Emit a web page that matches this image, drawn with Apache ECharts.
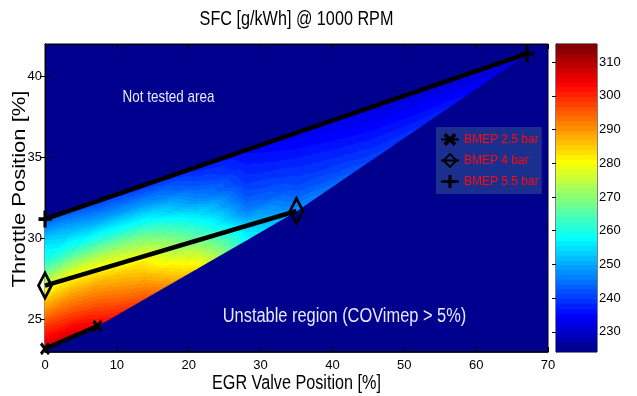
<!DOCTYPE html>
<html>
<head>
<meta charset="utf-8">
<script src="https://cdn.jsdelivr.net/npm/echarts@6/dist/echarts.min.js"></script>
<style>
  html, body { margin: 0; padding: 0; background: #ffffff; }
  #chart { width: 637px; height: 396px; }
</style>
</head>
<body>
<div id="chart"></div>
<script>
// ---- data ---------------------------------------------------------------
// EGR valve position of each column of the SFC map [%]
const egrColumns = [0, 3.5, 7.3, 14, 21, 28, 35, 45, 56, 67.1];

// throttle position samples per column, from the stability limit up to the 5.5 bar line [%]
const throttleGrid = [
  [23.2, 24.53, 25.87, 27.2, 28.53, 29.87, 31.2],
  [23.87, 25.18, 26.49, 27.8, 29.11, 30.42, 31.73],
  [24.6, 25.89, 27.17, 28.46, 29.74, 31.03, 32.31],
  [26.32, 27.49, 28.66, 29.83, 30.99, 32.16, 33.33],
  [28.11, 29.16, 30.2, 31.25, 32.3, 33.34, 34.39],
  [29.9, 30.83, 31.75, 32.68, 33.61, 34.53, 35.46],
  [31.7, 32.5, 33.31, 34.11, 34.91, 35.72, 36.52],
  [34.72, 35.27, 35.83, 36.38, 36.93, 37.49, 38.04],
  [38.04, 38.32, 38.6, 38.88, 39.15, 39.43, 39.71],
  [41.4, 41.4, 41.4, 41.4, 41.4, 41.4, 41.4]
];

// specific fuel consumption at those samples [g/kWh]
const sfcGrid = [
  [308, 299, 288, 276, 261, 254, 242],
  [308, 298, 289, 279, 263, 252, 242],
  [304, 296, 288, 278, 263, 250, 240],
  [296, 288, 281, 271, 259, 248, 239],
  [283, 275, 265, 257, 248, 242, 237],
  [258, 253, 246, 242, 239, 237, 235],
  [248, 244, 241, 239, 237, 235, 233],
  [241, 239, 237.5, 236, 234.5, 233, 232],
  [237, 236, 235, 234, 233, 232, 231],
  [230, 230, 230, 230, 230, 230, 230]
];

// constant-load lines: [EGR %, throttle %]
const bmep25 = [[0, 23.2], [7.3, 24.6]];
const bmep40 = [[0, 27.1], [35.0, 31.7]];
const bmep55 = [[0, 31.2], [67.1, 41.4]];
const seriesNames = ['BMEP 2.5 bar', 'BMEP 4 bar', 'BMEP 5.5 bar'];

// axes
const egrRange = [0, 70];
const egrTicks = [0, 10, 20, 30, 40, 50, 60, 70];
const throttleRange = [23, 42];
const throttleTicks = [25, 30, 35, 40];
const colorLimits = [224, 315.4];
const colorbarTicks = [230, 240, 250, 260, 270, 280, 290, 300, 310];

// ---- jet colormap (64 entries) -------------------------------------------
const NCOL = 64;
function jetRGB(i) {
  const j = i + 1;
  const u = k => (k < 1 ? 0 : k <= 16 ? k / 16 : k <= 31 ? 1 : k <= 47 ? (48 - k) / 16 : 0);
  return 'rgb(' + Math.round(255 * u(j - 24)) + ',' + Math.round(255 * u(j - 8)) + ',' +
    Math.round(255 * u(j + 8)) + ')';
}
function bandOf(v) {
  const f = (v - colorLimits[0]) / (colorLimits[1] - colorLimits[0]);
  return Math.max(0, Math.min(NCOL - 1, Math.floor(f * NCOL)));
}
function bandEdge(k) {
  return colorLimits[0] + k * (colorLimits[1] - colorLimits[0]) / NCOL;
}
const clamp01 = t => Math.max(0, Math.min(1, t));
// gradient stops for a ramp from v0 to v1, one flat band per colormap entry
function rampStops(v0, v1) {
  const stops = [];
  const k0 = bandOf(v0), k1 = bandOf(v1);
  let prev = 0;
  for (let k = k0; k <= k1; k++) {
    const end = k === k1 ? 1 : (bandEdge(k + 1) - v0) / (v1 - v0);
    const c = jetRGB(k);
    stops.push({ offset: clamp01(prev), color: c }, { offset: clamp01(end), color: c });
    prev = end;
  }
  return stops;
}

// ---- surface triangles built from the map grid ----------------------------
const surfaceCells = [];
for (let c = 0; c < egrColumns.length - 1; c++) {
  for (let r = 0; r < throttleGrid[c].length - 1; r++) {
    const a = [egrColumns[c], throttleGrid[c][r], sfcGrid[c][r]];
    const b = [egrColumns[c], throttleGrid[c][r + 1], sfcGrid[c][r + 1]];
    const d = [egrColumns[c + 1], throttleGrid[c + 1][r], sfcGrid[c + 1][r]];
    const e = [egrColumns[c + 1], throttleGrid[c + 1][r + 1], sfcGrid[c + 1][r + 1]];
    surfaceCells.push(a.concat(d, e), a.concat(e, b));
  }
}

// linear colour interpolation inside one triangle, drawn as a gradient along the value slope
function renderTriangle(params, api) {
  const p = [0, 1, 2].map(i => api.coord([api.value(i * 3), api.value(i * 3 + 1)]));
  const v = [0, 1, 2].map(i => api.value(i * 3 + 2));
  const e2x = p[1][0] - p[0][0], e2y = p[1][1] - p[0][1];
  const e3x = p[2][0] - p[0][0], e3y = p[2][1] - p[0][1];
  const det = e2x * e3y - e2y * e3x;
  if (Math.abs(det) < 1e-6) return null;
  const dv2 = v[1] - v[0], dv3 = v[2] - v[0];
  const gx = (dv2 * e3y - dv3 * e2y) / det;
  const gy = (dv3 * e2x - dv2 * e3x) / det;
  const g2 = gx * gx + gy * gy;
  const vmin = Math.min(v[0], v[1], v[2]), vmax = Math.max(v[0], v[1], v[2]);
  let fill;
  if (g2 < 1e-12 || vmax - vmin < 1e-9) {
    fill = jetRGB(bandOf(v[0]));
  } else {
    const t0 = (vmin - v[0]) / g2, t1 = (vmax - v[0]) / g2;
    fill = new echarts.graphic.LinearGradient(
      p[0][0] + gx * t0, p[0][1] + gy * t0, p[0][0] + gx * t1, p[0][1] + gy * t1,
      rampStops(vmin, vmax), true);
  }
  return { type: 'polygon', shape: { points: p }, style: { fill: fill, stroke: fill, lineWidth: 0.8 } };
}

function renderColorbar(params, api) {
  const lo = api.coord([api.value(0), api.value(1)]);
  const hi = api.coord([api.value(2), api.value(3)]);
  const fill = new echarts.graphic.LinearGradient(0, lo[1], 0, hi[1],
    rampStops(api.value(1), api.value(3) - 1e-6), true);
  return {
    type: 'rect',
    shape: { x: lo[0], y: hi[1], width: hi[0] - lo[0], height: lo[1] - hi[1] },
    style: { fill: fill }
  };
}

// ---- styling ---------------------------------------------------------------
const SANS = '"Liberation Sans", Arial, sans-serif';
const tickLabel = { color: '#000', fontSize: 13, fontFamily: SANS };
const blackLine = { show: true, lineStyle: { color: '#000', width: 1 } };
const insideTick = { show: true, inside: true, length: 5, lineStyle: { color: '#000' } };

const X_MARK = 'path://M0,2L2,0L5,3L8,0L10,2L7,5L10,8L8,10L5,7L2,10L0,8L3,5Z';
const PLUS_MARK = 'path://M3.8,0H6.2V3.9H10V6.1H6.2V10H3.8V6.1H0V3.9H3.8Z';

const PLOT = { left: 45, top: 44, width: 503, height: 308 };

// horizontally condensed text, the way the figure's labels are set
function label(text, x, y, size, color, extra) {
  return Object.assign({
    type: 'text', x: x, y: y, scaleX: 0.81, z: 10,
    style: { text: text, fill: color, font: size + 'px ' + SANS, textAlign: 'center', textVerticalAlign: 'middle' }
  }, extra || {});
}

const chart = echarts.init(document.getElementById('chart'), null, { renderer: 'canvas' });

chart.setOption({
  animation: false,
  backgroundColor: '#ffffff',
  grid: [
    Object.assign({ show: true, backgroundColor: '#00008F', borderColor: '#000', borderWidth: 1 }, PLOT),
    { left: 556, top: 44, width: 41, height: 308, show: true, borderColor: '#000', borderWidth: 1 }
  ],
  xAxis: [
    { gridIndex: 0, type: 'value', min: egrRange[0], max: egrRange[1], interval: 10, position: 'bottom',
      axisLine: { show: true, lineStyle: { color: '#000', width: 1.5 } }, axisTick: insideTick,
      splitLine: { show: false },
      axisLabel: Object.assign({ margin: 7, customValues: egrTicks }, tickLabel) },
    { gridIndex: 0, type: 'value', min: egrRange[0], max: egrRange[1], interval: 10, position: 'top',
      axisLine: blackLine, axisTick: insideTick, splitLine: { show: false }, axisLabel: { show: false } },
    { gridIndex: 1, type: 'value', min: 0, max: 1, show: false }
  ],
  yAxis: [
    { gridIndex: 0, type: 'value', min: throttleRange[0], max: throttleRange[1], position: 'left',
      axisLine: blackLine, splitLine: { show: false },
      axisTick: Object.assign({ customValues: throttleTicks }, insideTick),
      axisLabel: Object.assign({ margin: 3, customValues: throttleTicks }, tickLabel) },
    { gridIndex: 0, type: 'value', min: throttleRange[0], max: throttleRange[1], position: 'right',
      axisLine: blackLine, splitLine: { show: false },
      axisTick: Object.assign({ customValues: throttleTicks }, insideTick),
      axisLabel: { show: false } },
    { gridIndex: 1, type: 'value', min: colorLimits[0], max: colorLimits[1], position: 'right',
      axisLine: blackLine, splitLine: { show: false },
      axisTick: Object.assign({ customValues: colorbarTicks }, insideTick, { length: 4 }),
      axisLabel: Object.assign({ margin: 2, customValues: colorbarTicks }, tickLabel) }
  ],
  legend: {
    orient: 'vertical', left: 436, top: 127, padding: [5, 3, 5, 4], itemGap: 6,
    itemWidth: 18, itemHeight: 16, backgroundColor: '#1B2F8E', selectedMode: false,
    textStyle: { color: '#FF0A0A', fontSize: 12, fontFamily: SANS, lineHeight: 15 },
    data: seriesNames
  },
  series: [
    { type: 'custom', name: 'SFC', xAxisIndex: 0, yAxisIndex: 0, data: surfaceCells,
      renderItem: renderTriangle, silent: true, z: 1 },
    { type: 'custom', name: 'colorbar', xAxisIndex: 2, yAxisIndex: 2,
      data: [[0, colorLimits[0], 1, colorLimits[1]]], renderItem: renderColorbar, silent: true, z: 1 },
    { type: 'line', name: seriesNames[0], data: bmep25, xAxisIndex: 0, yAxisIndex: 0,
      symbol: X_MARK, symbolSize: [10, 13], clip: false, z: 3,
      lineStyle: { color: '#000', width: 4.5 }, itemStyle: { color: '#000' }, emphasis: { disabled: true } },
    { type: 'line', name: seriesNames[1], data: bmep40, xAxisIndex: 0, yAxisIndex: 0,
      symbol: 'diamond', symbolSize: [13, 25], clip: false, z: 3,
      lineStyle: { color: '#000', width: 4.5 },
      itemStyle: { color: 'rgba(0,0,0,0)', borderColor: '#000', borderWidth: 3 }, emphasis: { disabled: true } },
    { type: 'line', name: seriesNames[2], data: bmep55, xAxisIndex: 0, yAxisIndex: 0,
      symbol: PLUS_MARK, symbolSize: [13, 17], clip: false, z: 3,
      lineStyle: { color: '#000', width: 4.5 }, itemStyle: { color: '#000' }, emphasis: { disabled: true } }
  ],
  graphic: [
    label('SFC [g/kWh] @ 1000 RPM', 296.5, 19, 20, '#000'),
    label('EGR Valve Position [%]', 296.5, 383, 20, '#000'),
    label('Throttle Position [%]', 20, 189, 22, '#000', { rotation: Math.PI / 2, scaleX: 1, scaleY: 0.82 }),
    label('Not tested area', 168.5, 97, 17, '#E8E8FF', { scaleX: 0.79 }),
    label('Unstable region (COVimep > 5%)', 344.5, 316, 20, '#E8E8FF', { scaleX: 0.82 })
  ]
});
</script>
</body>
</html>
